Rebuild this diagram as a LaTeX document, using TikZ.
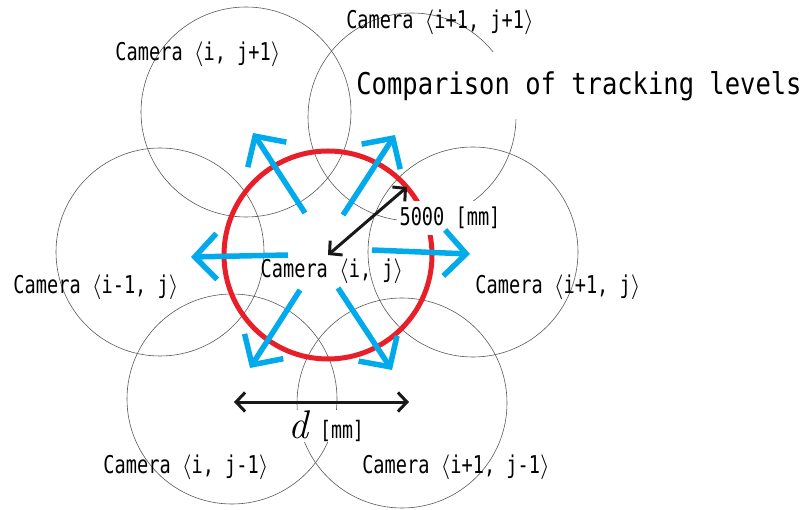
\documentclass[tikz,border=0pt]{standalone}
\usepackage{fontspec}
\usetikzlibrary{arrows.meta}
\newfontfamily\labfont[FakeStretch=0.76]{DejaVu Sans Mono}
\newfontfamily\titfont[FakeStretch=0.85]{DejaVu Sans Mono}
\definecolor{camred}{RGB}{232,30,40}
\definecolor{camblue}{RGB}{0,170,235}
\begin{document}
\begin{tikzpicture}[x=1pt,y=-1pt,
  cam/.style={draw=black!65,line width=0.6pt},
  lab/.style={font={\labfont\fontsize{24.5}{28}\selectfont},inner sep=0pt},
  titlestyle/.style={font={\titfont\fontsize{30}{34}\selectfont},inner xsep=0pt,fill=white,minimum height=67pt},
  bluearr/.style={draw=camblue,line width=5.5pt,-{Straight Barb[length=22pt,width=46pt]}},
  blackarr/.style={draw=black!90,line width=3pt,{Straight Barb[length=9pt,width=19pt]}-{Straight Barb[length=9pt,width=19pt]}},
  redring/.style={draw=camred,line width=5pt}]
\useasboundingbox (0,0) rectangle (811,510);
% camera coverage circles
\draw[cam] (246,112) circle[radius=105pt];
\draw[cam] (412,117) circle[radius=104pt];
\draw[cam] (160,252) circle[radius=104pt];
\draw[cam] (473,252) circle[radius=105pt];
\draw[cam] (232,399) circle[radius=105pt];
\draw[cam] (402,403) circle[radius=105pt];
% title
\node[titlestyle] (title) at (579,86) {Comparison of tracking levels};
% red ring
\draw[redring] (328,255) circle[radius=104pt];
% radius label
\node[lab,fill=white,inner sep=3pt,minimum height=34pt] (rlab) at (450,218) {5000 [mm]};
% coordinates
\coordinate (ctr) at (328,255);
\coordinate (rim) at (407,187);
\coordinate (ult) at (305,213); \coordinate (ulh) at (253,133);
\coordinate (urt) at (343,215); \coordinate (urh) at (395,135);
\coordinate (lt)  at (288,255); \coordinate (lh)  at (191,257);
\coordinate (rt)  at (372,250); \coordinate (rh)  at (470,254);
\coordinate (dlt) at (300,290); \coordinate (dlh) at (250,368);
\coordinate (drt) at (338,288); \coordinate (drh) at (392,370);
\coordinate (dl) at (234,402); \coordinate (dr) at (409,402);
% blue arrows
\draw[bluearr] (ult) -- (ulh);
\draw[bluearr] (urt) -- (urh);
\draw[bluearr] (lt) -- (lh);
\draw[bluearr] (rt) -- (rh);
\draw[bluearr] (dlt) -- (dlh);
\draw[bluearr] (drt) -- (drh);
% black arrows
\draw[blackarr] (ctr) -- (rim);
\draw[blackarr] (dl) -- (dr);
% d label
\node[fill=white,inner sep=1pt] (dlab) at (326,426) {{\rmfamily\itshape\fontsize{40}{40}\selectfont d}\hspace{12pt}{\labfont\fontsize{24}{24}\selectfont[mm]}};
% camera labels
\node[lab] (cij1) at (198,54) {Camera $\langle$i, j+1$\rangle$};
\node[lab] (ci1j1) at (440,22) {Camera $\langle$i+1, j+1$\rangle$};
\node[lab] (cim1j) at (96,287) {Camera $\langle$i-1, j$\rangle$};
\node[lab] (cij) at (332,271) {Camera $\langle$i, j$\rangle$};
\node[lab] (ci1j) at (558,287) {Camera $\langle$i+1, j$\rangle$};
\node[lab] (cijm1) at (186,467) {Camera $\langle$i, j-1$\rangle$};
\node[lab] (ci1jm1) at (456,467) {Camera $\langle$i+1, j-1$\rangle$};
\end{tikzpicture}
\end{document}
